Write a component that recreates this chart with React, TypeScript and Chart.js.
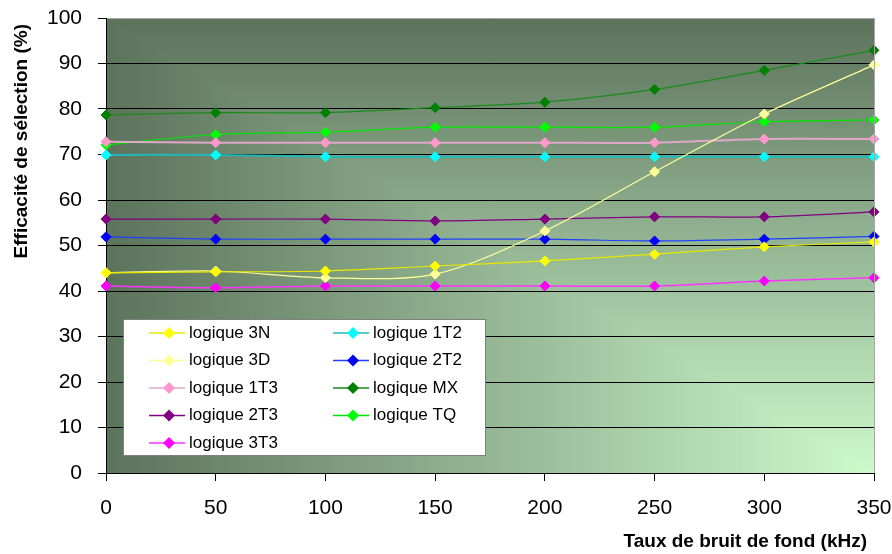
import React, { useEffect, useRef } from 'react';
import { Chart, registerables } from 'chart.js';

Chart.register(...registerables);

// ---- data ----
const xLabels = ['0', '50', '100', '150', '200', '250', '300', '350'];

const names = [
  'logique 3N', 'logique 3D', 'logique 1T3', 'logique 2T3', 'logique 3T3',
  'logique 1T2', 'logique 2T2', 'logique MX', 'logique TQ',
];

const s3N = [44.0, 44.2, 44.4, 45.5, 46.6, 48.1, 49.7, 50.8];
const s3D = [44.0, 44.4, 42.9, 43.7, 53.2, 66.2, 78.9, 89.7];
const s1T3 = [72.8, 72.6, 72.6, 72.6, 72.6, 72.6, 73.4, 73.4];
const s2T3 = [55.8, 55.8, 55.8, 55.4, 55.8, 56.3, 56.3, 57.4];
const s3T3 = [41.1, 40.7, 41.1, 41.1, 41.1, 41.1, 42.2, 42.9];
const s1T2 = [69.9, 69.9, 69.5, 69.5, 69.5, 69.5, 69.5, 69.5];
const s2T2 = [51.9, 51.4, 51.4, 51.4, 51.4, 51.0, 51.4, 52.0];
const sMX = [78.7, 79.2, 79.2, 80.3, 81.5, 84.3, 88.5, 92.9];
const sTQ = [72.1, 74.4, 74.9, 76.0, 76.0, 76.0, 77.2, 77.6];

const seriesValues = [s3N, s3D, s1T3, s2T3, s3T3, s1T2, s2T2, sMX, sTQ];

const lineColors = ['#e8e800', '#ffff99', '#e0a8c8', '#800080', '#ff33ff', '#20b8b8', '#1f3fff', '#1a8a1a', '#00e600'];
const markerColors = ['#ffff00', '#ffff99', '#ff99cc', '#800080', '#ff00ff', '#00ffff', '#0000ff', '#008000', '#00ff00'];
const lineWidths = [1.2, 1.2, 2, 1.2, 1.5, 2, 1.2, 1.2, 1.2];

const yTitle = 'Efficacité de sélection (%)';
const xTitle = 'Taux de bruit de fond (kHz)';

const FONT = '"Liberation Sans", Arial, sans-serif';

const bgPlugin = {
  id: 'cornerGradient',
  beforeDraw(chart: any) {
    const { ctx, chartArea: a } = chart;
    const W = a.right - a.left;
    const H = a.bottom - a.top;
    const dark = [92, 115, 92];
    const light = [206, 250, 204];
    const N = 200;
    ctx.save();
    for (let i = 0; i <= N; i++) {
      const t = 1 - i / N;
      const c = light.map((l, k) => Math.round(l + (dark[k] - l) * t));
      ctx.fillStyle = `rgb(${c[0]},${c[1]},${c[2]})`;
      ctx.fillRect(a.right - W * t, a.bottom - H * t, W * t + 1, H * t + 1);
    }
    ctx.restore();
  },
};

function drawDiamond(ctx: CanvasRenderingContext2D, x: number, y: number, r: number, color: string) {
  ctx.beginPath();
  ctx.moveTo(x - r, y);
  ctx.lineTo(x, y - r);
  ctx.lineTo(x + r, y);
  ctx.lineTo(x, y + r);
  ctx.closePath();
  ctx.fillStyle = color;
  ctx.fill();
}

const overlayPlugin = {
  id: 'overlay',
  afterDraw(chart: any) {
    const { ctx, chartArea: a } = chart;
    ctx.save();
    // right border of plot area
    ctx.strokeStyle = '#a8a8a8';
    ctx.lineWidth = 1;
    ctx.beginPath();
    ctx.moveTo(Math.round(a.right) + 0.5, a.top);
    ctx.lineTo(Math.round(a.right) + 0.5, a.bottom);
    ctx.stroke();

    // legend box
    const bx = 123.5, by = 319.5, bw = 362, bh = 136;
    ctx.fillStyle = '#ffffff';
    ctx.fillRect(bx, by, bw, bh);
    ctx.strokeStyle = '#808080';
    ctx.strokeRect(bx, by, bw, bh);

    ctx.font = `17px ${FONT}`;
    ctx.textBaseline = 'middle';
    ctx.textAlign = 'left';
    names.forEach((name, i) => {
      const col = i < 5 ? 0 : 1;
      const row = i < 5 ? i : i - 5;
      const mx = col === 0 ? 169 : 353;
      const ty = 333 + row * 27.5;
      ctx.strokeStyle = lineColors[i];
      ctx.lineWidth = 1.5;
      ctx.beginPath();
      ctx.moveTo(mx - 20, ty);
      ctx.lineTo(mx + 16, ty);
      ctx.stroke();
      drawDiamond(ctx, mx, ty, 6, markerColors[i]);
      ctx.fillStyle = '#000';
      ctx.fillText(name, mx + 20, ty);
    });

    // axis titles
    ctx.font = `bold 19px ${FONT}`;
    ctx.fillStyle = '#000';
    ctx.textAlign = 'right';
    ctx.textBaseline = 'alphabetic';
    ctx.fillText(xTitle, 867, 547);

    ctx.translate(22, 24);
    ctx.rotate(-Math.PI / 2);
    ctx.textAlign = 'right';
    ctx.textBaseline = 'middle';
    ctx.fillText(yTitle, 0, 0);
    ctx.restore();
  },
};

export default function App() {
  const ref = useRef<HTMLCanvasElement | null>(null);

  useEffect(() => {
    document.body.style.margin = '0';
    const canvas = ref.current;
    if (!canvas) return;
    const chart = new Chart(canvas, {
      type: 'line',
      data: {
        labels: xLabels,
        datasets: names.map((name, i) => ({
          label: name,
          data: seriesValues[i],
          borderColor: lineColors[i],
          borderWidth: lineWidths[i],
          backgroundColor: markerColors[i],
          pointBackgroundColor: markerColors[i],
          pointBorderColor: markerColors[i],
          pointBorderWidth: 1,
          pointStyle: 'rectRot',
          pointRadius: 5,
          tension: 0.3,
          fill: false,
        })),
      },
      options: {
        responsive: false,
        animation: false,
        layout: { padding: { left: 0, top: 18, right: 18, bottom: 0 } },
        plugins: {
          legend: { display: false },
          tooltip: { enabled: false },
          title: { display: false },
        },
        font: { family: FONT },
        scales: {
          x: {
            type: 'category',
            offset: false,
            grid: {
              display: true,
              drawOnChartArea: false,
              drawTicks: true,
              tickLength: 8,
              color: '#000',
            },
            border: { display: true, color: '#000', width: 1 },
            ticks: {
              color: '#000',
              font: { size: 21, family: FONT },
              padding: 15,
              maxRotation: 0,
              autoSkip: false,
            },
            afterFit(scale: any) {
              scale.height = 81;
              scale.paddingLeft = 0;
              scale.paddingRight = 0;
            },
          },
          y: {
            min: 0,
            max: 100,
            grid: {
              color: (c: any) => (c.tick && c.tick.value === 100 ? '#a8a8a8' : '#000'),
              tickColor: '#000',
              tickLength: 8,
              drawTicks: true,
            },
            border: { display: true, color: '#000', width: 1 },
            ticks: {
              stepSize: 10,
              color: '#000',
              font: { size: 21, family: FONT },
              padding: 16,
            },
            afterFit(scale: any) {
              scale.width = 106;
              scale.paddingTop = 0;
              scale.paddingBottom = 0;
            },
          },
        },
      } as any,
      plugins: [bgPlugin, overlayPlugin],
    });
    return () => chart.destroy();
  }, []);

  return (
    <div style={{ width: 892, height: 554, background: '#fff' }}>
      <canvas ref={ref} width={892} height={554} style={{ display: 'block' }} />
    </div>
  );
}
